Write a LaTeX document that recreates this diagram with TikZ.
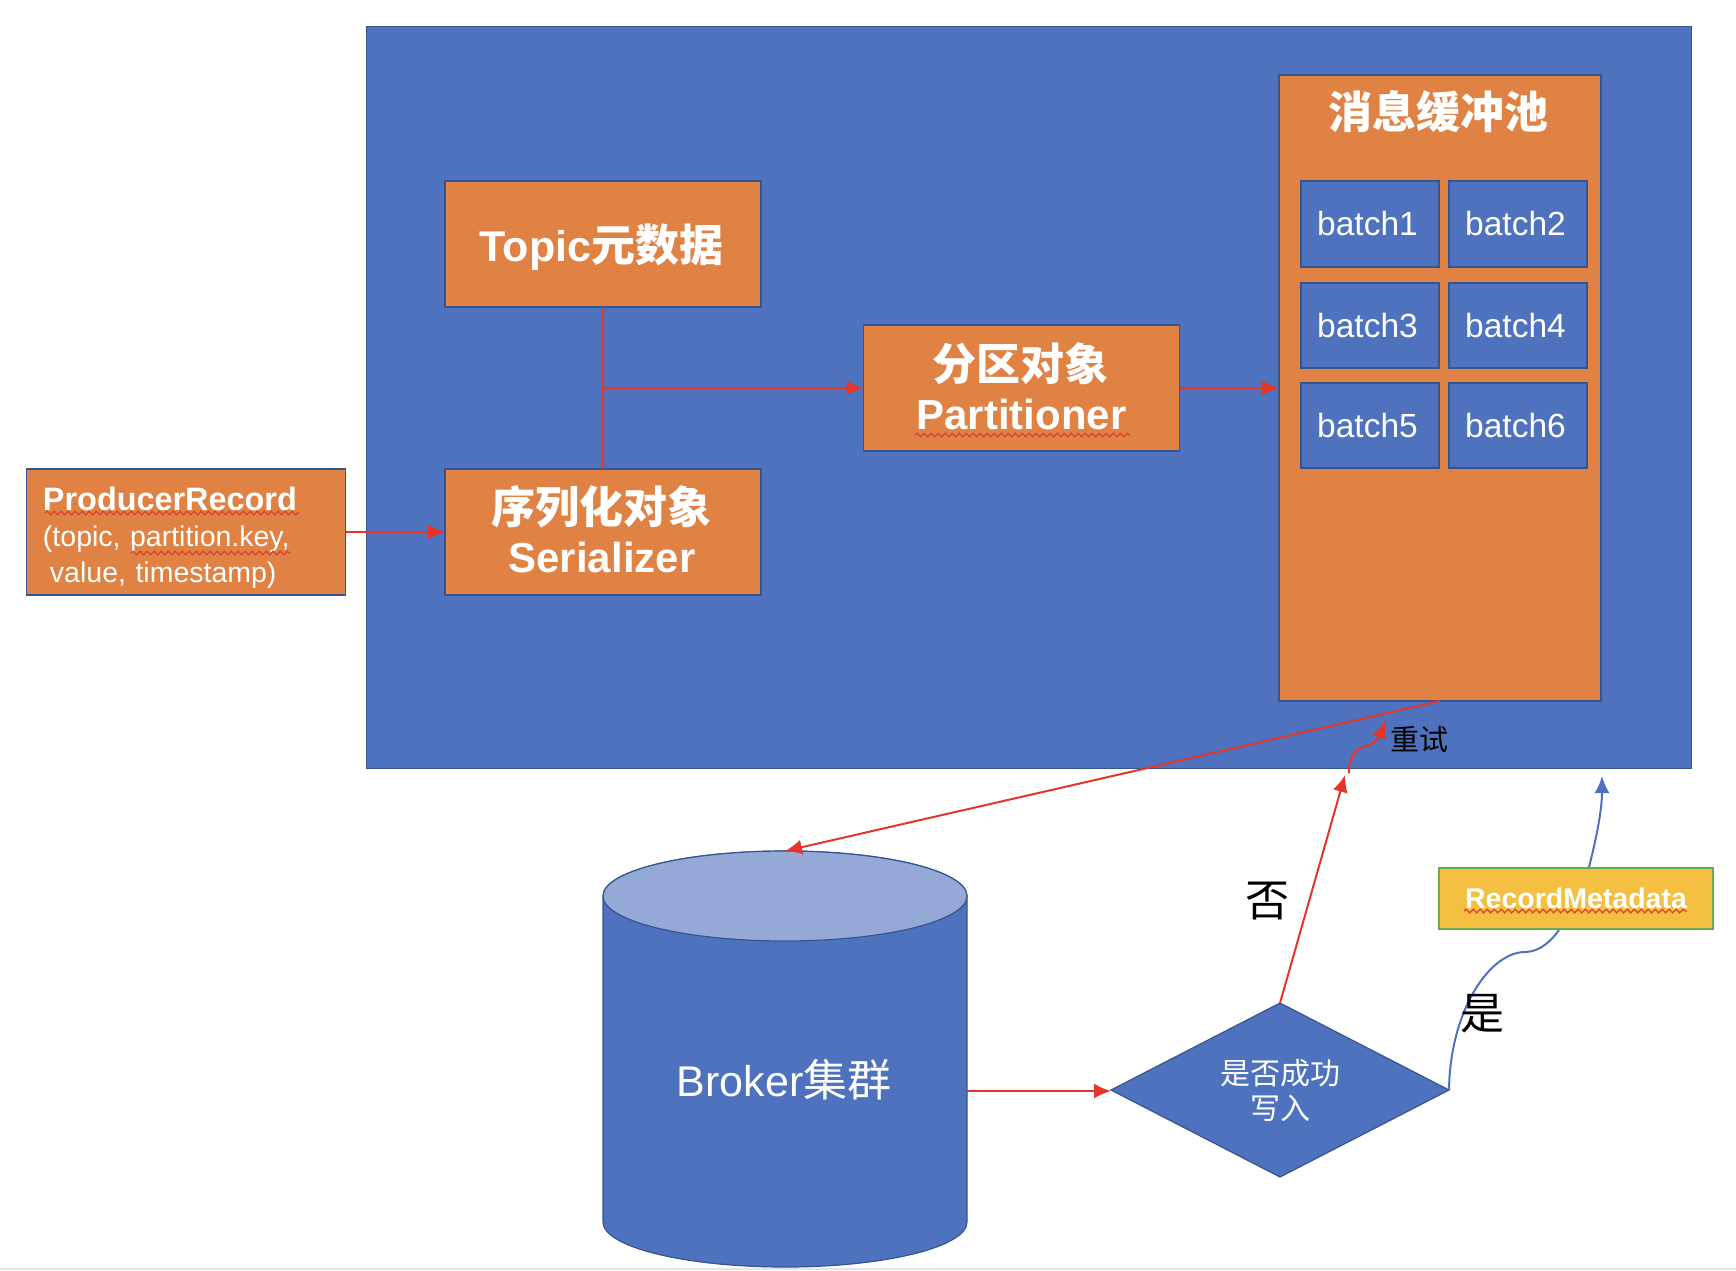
\documentclass[tikz,border=0pt]{standalone}
\usepackage{fontspec}
\setmainfont{Noto Sans CJK SC}
\newfontfamily\lat{Liberation Sans}
\usetikzlibrary{arrows.meta,shapes.geometric,decorations.pathmorphing}
\definecolor{bluefill}{HTML}{4E72BD}
\definecolor{blueedge}{HTML}{36558F}
\definecolor{orangefill}{HTML}{DF8244}
\definecolor{redline}{HTML}{E5352A}
\definecolor{cyltop}{HTML}{95A9D7}
\definecolor{yellowfill}{HTML}{F5BF41}
\definecolor{greenedge}{HTML}{68AC4E}
\definecolor{wavy}{HTML}{D9442F}
\newcommand{\fs}[1]{\fontsize{#1}{#1}\selectfont}
\newcommand{\lt}[2]{{\lat\fontsize{#1}{#1}\selectfont #2}}
\newcommand{\bt}[1]{#1\hspace*{5pt}}
\tikzset{
  outerbox/.style={draw=blueedge,line width=1.4pt,fill=bluefill,inner sep=0pt,outer sep=0pt},
  orangebox/.style={draw=blueedge,line width=1.4pt,fill=orangefill,inner sep=0pt,outer sep=0pt,text=white,align=center,font=\fs{44}\bfseries},
  batchbox/.style={draw=blueedge,line width=1.6pt,fill=bluefill,inner sep=0pt,outer sep=0pt,text=white,font=\lat\fs{33.5},minimum width=138.5pt,minimum height=85.5pt},
  redarrow/.style={draw=redline,line width=2pt,-{Latex[length=17pt,width=15pt]}},
  redthin/.style={draw=redline,line width=2pt},
  bluecurve/.style={draw=bluefill,line width=2pt},
  bluearrow/.style={draw=bluefill,line width=2pt,-{Latex[length=17pt,width=15pt]}},
  spell/.style={draw=wavy,line width=1.3pt,decorate,decoration={snake,segment length=7pt,amplitude=1.8pt}},
  plainlabel/.style={inner sep=0pt,text=black}
}
\begin{document}
\begin{tikzpicture}[x=1pt,y=-1pt]
\useasboundingbox (0,0) rectangle (1736,1270);
\fill[black!10] (0,1268) rectangle (1736,1270);
% main area
\node[outerbox,minimum width=1325pt,minimum height=742pt] (main) at (1029,397.5) {};
\node[orangebox,anchor=north,minimum width=322pt,minimum height=626pt] (pool) at (1440,75) {};
\node[inner sep=0pt,text=white,font=\fs{44}\bfseries] (pooltitle) at (1438,112) {消息缓冲池};
\node[batchbox] (b1) at (1370,224) {\bt{batch1}};
\node[batchbox] (b2) at (1518,224) {\bt{batch2}};
\node[batchbox] (b3) at (1370,325.5) {\bt{batch3}};
\node[batchbox] (b4) at (1518,325.5) {\bt{batch4}};
\node[batchbox] (b5) at (1370,425.5) {\bt{batch5}};
\node[batchbox] (b6) at (1518,425.5) {\bt{batch6}};
\node[orangebox,minimum width=316pt,minimum height=126pt] (topic) at (603,244) {\rule{0pt}{43pt}\lt{43}{Topic}元数据\hspace*{3pt}};
\node[orangebox,minimum width=316pt,minimum height=126pt] (ser) at (603,532) {序列化对象\hspace*{3pt}\\[5pt]\lt{42}{Serializer}\rule[-6.6pt]{0pt}{1pt}\hspace*{2pt}};
\node[orangebox,minimum width=316pt,minimum height=126pt] (part) at (1021.5,388) {分区对象\hspace*{2pt}\\[5pt]\lt{42}{Partitioner}\rule[-3.4pt]{0pt}{1pt}};
\node[orangebox,minimum width=319pt,minimum height=126pt,font=\lat\fontsize{28.5}{36}\selectfont,align=left,text width=282pt,inner xsep=18.5pt] (rec) at (186,532)
  {\rule{0pt}{35pt}\hspace*{-2pt}\mbox{\bfseries\fontsize{32.4}{36}\selectfont ProducerRecord}\\\hspace*{-2pt}\mbox{(topic, partition.key,}\\\hspace*{-2pt}\mbox{\hspace*{7pt}value, timestamp)}};
% cylinder
\node[inner sep=0pt,outer sep=0pt,minimum width=364pt,minimum height=416pt] (broker) at (785,1059) {};
\fill[bluefill,draw=blueedge,line width=1.2pt]
  (603,896) arc[start angle=180,end angle=360,x radius=182pt,y radius=-45pt]
  -- (967,1222) arc[start angle=0,end angle=180,x radius=182pt,y radius=-45pt] -- cycle;
\fill[cyltop,draw=blueedge,line width=1.2pt] (785,896) ellipse[x radius=182pt,y radius=45pt];
\node[inner sep=0pt,text=white,font=\fs{44}] (brokerlabel) at (784,1080) {\lt{43}{Broker}集群};
% decision
\node[diamond,aspect=1.94,draw=blueedge,line width=1.2pt,fill=bluefill,inner sep=0pt,outer sep=0pt,minimum width=338pt,minimum height=174pt] (dec) at (1280,1090) {};
\node[inner sep=0pt,text=white,font=\fs{30},align=center] (declabel) at (1280,1090) {是否成功\\[5pt]写入};
% metadata
\node[draw=greenedge,line width=2pt,fill=yellowfill,inner sep=0pt,outer sep=0pt,text=white,font=\lat\fs{28.5}\bfseries,minimum width=274pt,minimum height=61pt] (meta) at (1576,898) {RecordMetadata};
% free ends
\coordinate (junc) at (603,388);
\coordinate (brokerE) at (967,1091);
\coordinate (noTip) at (1345,775);
\coordinate (retryS) at (1349,773);
\coordinate (retryTip) at (1385,721);
\coordinate (metaB) at (1559,930);
\coordinate (metaT) at (1589,867);
\coordinate (yesTip) at (1602,776);
% connectors
\draw[redarrow] (rec.east) -- (ser.west);
\draw[redthin] (topic.south) -- (ser.north);
\draw[redarrow] (junc) -- (part.west);
\draw[redarrow] (part.east) -- (part.east -| pool.west);
\draw[redarrow] (pool.south) -- (broker.north);
\draw[redarrow] (brokerE) -- (brokerE -| dec.west);
\draw[redarrow] (dec.north) -- (noTip);
\draw[redarrow] (retryS) .. controls (1349,752) and (1360,748) .. (1364,747) .. controls (1375,745) and (1380,735) .. (retryTip);
\draw[bluecurve] (dec.east) .. controls (1450,1010) and (1490,952) .. (1525,952) .. controls (1540,952) and (1552,940) .. (metaB);
\draw[bluearrow] (metaT) .. controls (1596,840) and (1602,810) .. (yesTip);
% labels
\node[plainlabel,font=\fs{29}] (retry) at (1419,739) {重试};
\node[plainlabel,font=\fs{44}] (no) at (1267,901) {否};
\node[plainlabel,font=\fs{44}] (yes) at (1482,1014) {是};
% spell-check underlines
\coordinate (w1a) at (45,513); \coordinate (w1b) at (299,513);
\coordinate (w2a) at (131,553); \coordinate (w2b) at (291,553);
\coordinate (w3a) at (915,435); \coordinate (w3b) at (1130,435);
\coordinate (w4a) at (1464,911); \coordinate (w4b) at (1687,911);
\draw[spell] (w1a) -- (w1b);
\draw[spell] (w2a) -- (w2b);
\draw[spell] (w3a) -- (w3b);
\draw[spell] (w4a) -- (w4b);
\end{tikzpicture}
\end{document}
